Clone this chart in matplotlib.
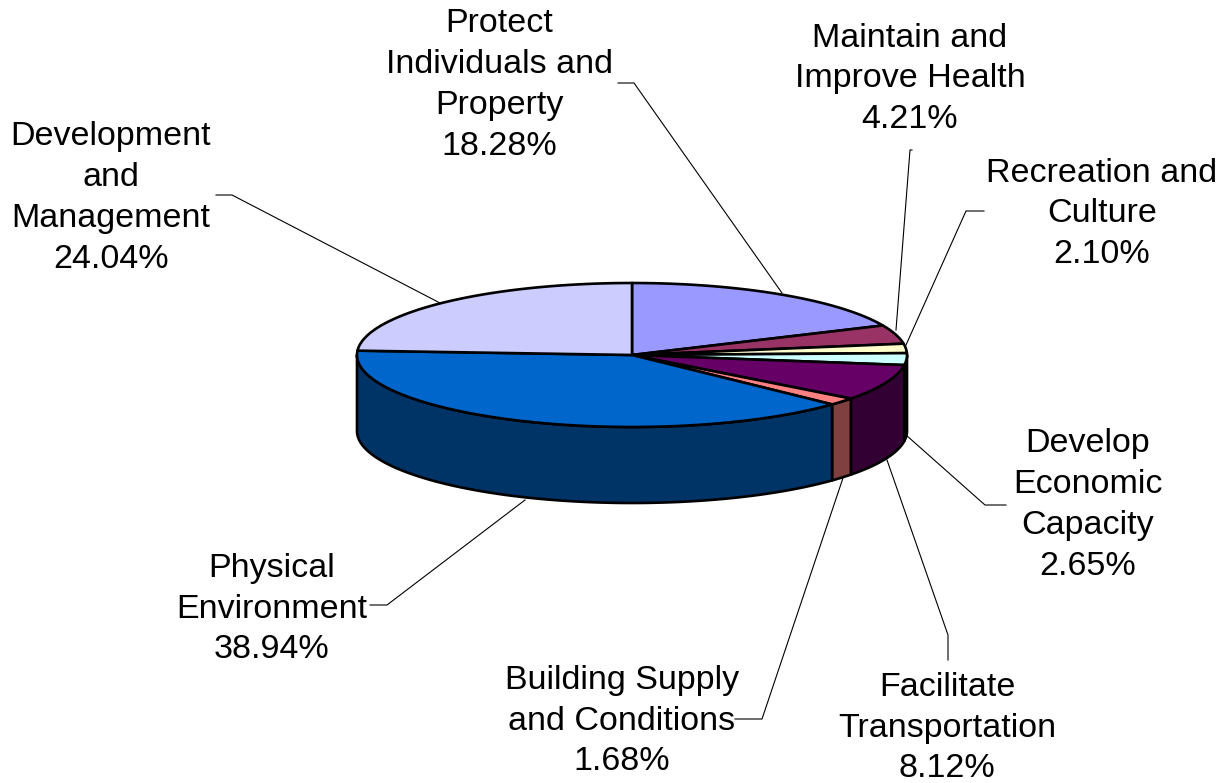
#!/usr/bin/env python3
import numpy as np
import matplotlib
matplotlib.use("Agg")
import matplotlib.pyplot as plt
from matplotlib.patches import Polygon

plt.rcParams["font.family"] = ["Liberation Sans", "DejaVu Sans"]

# clockwise from 12 o'clock
categories = ["Protect\nIndividuals and\nProperty", "Maintain and\nImprove Health",
              "Recreation and\nCulture", "Develop\nEconomic\nCapacity",
              "Facilitate\nTransportation", "Building Supply\nand Conditions",
              "Physical\nEnvironment", "Development\nand\nManagement"]
values = [18.28, 4.21, 2.10, 2.65, 8.12, 1.68, 38.94, 24.04]
top_colors = ["#9999FF", "#993366", "#FFFFCC", "#CCFFFF", "#660066", "#FF8080", "#0066CC", "#CCCCFF"]
side_colors = ["#4D4D80", "#4D1A33", "#808066", "#668080", "#330033", "#804040", "#003366", "#666680"]

# label centre in pixels
label_pos = [(499, 85), (910, 79), (1102, 214), (1088, 505), (947, 728), (622, 721), (272, 609), (111, 198)]
leaders = [
    [(618, 83), (634, 83), (782, 293)],
    [(912, 150), (910, 150), (896, 330)],
    [(984, 211), (966, 211), (906, 345)],
    [(1006, 505), (985, 505), (906, 435)],
    [(948, 660), (948, 635), (887, 460)],
    [(735, 719), (762, 719), (843, 478)],
    [(370, 605), (387, 605), (525, 500)],
    [(216, 195), (232, 195), (440, 303)],
]

CX, CY, RX, RY, DEPTH = 632, 355, 275, 72, 76


def rim(a0, a1, dy=0.0):
    t = np.radians(np.linspace(a0, a1, max(int(a1 - a0) * 2, 2)))
    return np.column_stack([CX + RX * np.sin(t), CY - RY * np.cos(t) + dy])


fig = plt.figure(figsize=(12.24, 7.83), dpi=100)
ax = fig.add_axes([0, 0, 1, 1])
ax.set_xlim(0, 1224)
ax.set_ylim(783, 0)
ax.axis("off")

edges = np.concatenate([[0], np.cumsum(values)]) / np.sum(values) * 360

# walls first, only the front half of the cylinder shows
for i in range(len(values)):
    a0, a1 = max(edges[i], 90), min(edges[i + 1], 270)
    if a1 <= a0:
        continue
    pts = np.vstack([rim(a0, a1), rim(a0, a1, DEPTH)[::-1]])
    ax.add_patch(Polygon(pts, closed=True, facecolor=side_colors[i], edgecolor="black",
                         linewidth=1.9, joinstyle="round"))

for i in range(len(values)):
    pts = np.vstack([[(CX, CY)], rim(edges[i], edges[i + 1])])
    ax.add_patch(Polygon(pts, closed=True, facecolor=top_colors[i], edgecolor="black",
                         linewidth=1.9, joinstyle="round"))

for line in leaders:
    xs, ys = zip(*line)
    ax.plot(xs, ys, color="black", linewidth=0.8, zorder=1.5)

for name, val, (x, y) in zip(categories, values, label_pos):
    ax.text(x, y, f"{name}\n{val:.2f}%", ha="center", va="center", fontsize=24.5,
            linespacing=1.41, color="black")

fig.savefig("out.png", dpi=100)
